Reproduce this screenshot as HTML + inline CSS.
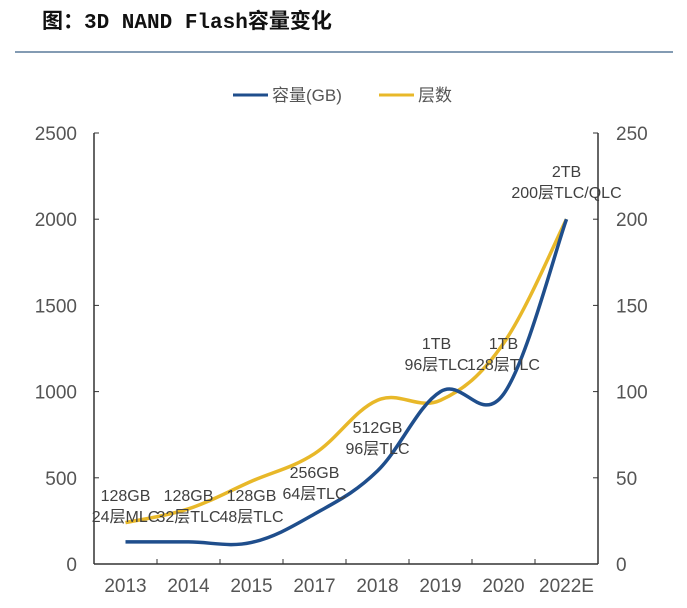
<!DOCTYPE html>
<html><head><meta charset="utf-8"><style>
body{margin:0;background:#fff;}
svg text{font-family:"Liberation Sans","Noto Sans CJK SC",sans-serif;}
</style></head><body>
<svg width="687" height="603" viewBox="0 0 687 603">
<text x="42" y="28" font-size="21" font-weight="bold" fill="#111" style="font-family:'Liberation Mono','Noto Sans CJK SC',monospace">图：3D NAND Flash容量变化</text>
<line x1="15" y1="52" x2="673" y2="52" stroke="#5a7a9a" stroke-width="1.5"/>
<g>
<g><line x1="233" y1="95" x2="268" y2="95" stroke="#1f4e8c" stroke-width="3"/><text x="272" y="101" font-size="17" fill="#555">容量(GB)</text></g>
<g><line x1="379" y1="95" x2="414" y2="95" stroke="#e8b829" stroke-width="3"/><text x="418" y="101" font-size="17" fill="#555">层数</text></g>
</g>
<g id="axes"></g>
<g id="marks"></g>
</svg>
<script>
const categories=["2013","2014","2015","2017","2018","2019","2020","2022E"];
const capacity=[128,128,125,290,540,1000,985,2000];
const layers=[24,32,48,64,95,95,128,200];
const leftTicks=[0,500,1000,1500,2000,2500];
const rightTicks=[0,50,100,150,200,250];
const capLabels=["128GB","128GB","128GB","256GB","512GB","1TB","1TB","2TB"];
const layerLabels=["24层MLC","32层TLC","48层TLC","64层TLC","96层TLC","96层TLC","128层TLC","200层TLC/QLC"];
const labelY=[520,520,520,497,452,368,368,196];

const X0=94,X1=598,Y0=564,Y1=133;
const bw=(X1-X0)/categories.length;
const x=i=>X0+bw*(i+0.5);
const yL=v=>Y0-(v/2500)*(Y0-Y1);
const yR=v=>Y0-(v/250)*(Y0-Y1);
const NS="http://www.w3.org/2000/svg";
const ax=document.getElementById('axes'),mk=document.getElementById('marks');
function el(t,a,p){const e=document.createElementNS(NS,t);for(const k in a)e.setAttribute(k,a[k]);p.appendChild(e);return e;}
let e;
e=el('line',{x1:X0,y1:Y1,x2:X0,y2:Y0,stroke:'#333','stroke-width':1.5},ax);


e=el('line',{x1:X1,y1:Y1,x2:X1,y2:Y0,stroke:'#333','stroke-width':1.5},ax);


e=el('line',{x1:X0,y1:Y0,x2:X1,y2:Y0,stroke:'#333','stroke-width':1.5},ax);


leftTicks.forEach(v=>{
 el('line',{x1:X0,y1:yL(v),x2:X0+5,y2:yL(v),stroke:'#333'},ax);
 e=el('text',{x:77,y:yL(v)+7,'font-size':19,fill:'#555','text-anchor':'end'},ax);e.textContent=v;
 
 
});
rightTicks.forEach(v=>{
 el('line',{x1:X1-5,y1:yR(v),x2:X1,y2:yR(v),stroke:'#333'},ax);
 e=el('text',{x:616,y:yR(v)+7,'font-size':19,fill:'#555'},ax);e.textContent=v;
 
 
});
categories.forEach((c,i)=>{
 if(i>0)el('line',{x1:X0+bw*i,y1:Y0-5,x2:X0+bw*i,y2:Y0,stroke:'#333'},ax);
 e=el('text',{x:x(i),y:592,'font-size':19,fill:'#555','text-anchor':'middle'},ax);e.textContent=c;
 
 
});
function smooth(pts){let d=`M${pts[0][0]},${pts[0][1]}`;for(let i=0;i<pts.length-1;i++){const p0=pts[Math.max(0,i-1)],p1=pts[i],p2=pts[i+1],p3=pts[Math.min(pts.length-1,i+2)];const t=0.18;d+=` C${p1[0]+(p2[0]-p0[0])*t},${p1[1]+(p2[1]-p0[1])*t} ${p2[0]-(p3[0]-p1[0])*t},${p2[1]-(p3[1]-p1[1])*t} ${p2[0]},${p2[1]}`;}return d;}
e=el('path',{d:smooth(layers.map((v,i)=>[x(i),yR(v)])),fill:'none',stroke:'#e8b829','stroke-width':3.5},mk);


e=el('path',{d:smooth(capacity.map((v,i)=>[x(i),yL(v)])),fill:'none',stroke:'#1f4e8c','stroke-width':3.5},mk);


categories.forEach((c,i)=>{
 const yb=labelY[i]+2;
 const xo=x(i)+(i==5?-4:0);
 e=el('text',{x:xo,y:yb-21,'font-size':16,fill:'#404040','text-anchor':'middle'},mk);e.textContent=capLabels[i];
 
 
 e=el('text',{x:xo,y:yb,'font-size':16,fill:'#404040','text-anchor':'middle'},mk);e.textContent=layerLabels[i];
 
 
});
</script>
</body></html>
